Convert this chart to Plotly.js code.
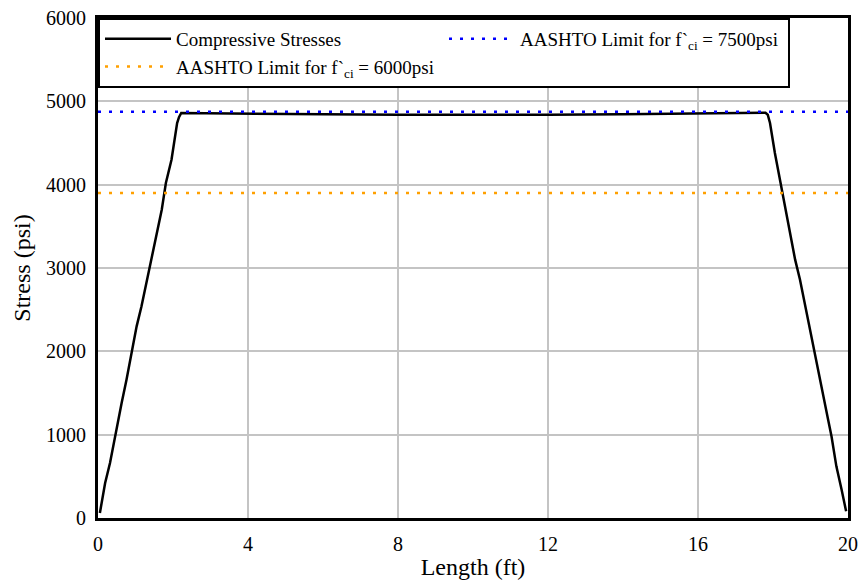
<!DOCTYPE html>
<html>
<head>
<meta charset="utf-8">
<script src="https://cdn.plot.ly/plotly-3.0.1.min.js"></script>
<style>html,body{margin:0;padding:0;background:#fff;}#chart{width:861px;height:582px;}</style>
</head>
<body>
<div id="chart"></div>
<script>
// Compressive stress along the member (ft, psi)
const lengthFt = [0.05, 0.19, 0.32, 0.45, 0.63, 0.76, 0.92, 1.03, 1.16, 1.39, 1.52, 1.70, 1.81, 1.96, 2.11, 2.16, 2.22,
  4, 6, 8, 10, 12, 14, 16, 17.8, 17.86, 17.92, 18.05, 18.23, 18.41, 18.59, 18.72, 18.94, 19.12, 19.30, 19.47, 19.56, 19.69, 19.83, 19.95];
const stressPsi = [60, 420, 660, 980, 1380, 1660, 2060, 2300, 2540, 3020, 3300, 3700, 4020, 4300, 4740, 4810, 4860,
  4850, 4845, 4840, 4838, 4840, 4845, 4852, 4862, 4840, 4740, 4380, 3940, 3500, 3100, 2860, 2380, 1980, 1580, 1180, 980, 620, 340, 80];

// AASHTO limits (0.65 f'ci)
const limitX = [0, 20];
const limit7500 = [4875, 4875];
const limit6000 = [3900, 3900];

const seriesNames = ["Compressive Stresses", "AASHTO Limit for f`<sub>ci</sub> = 7500psi", "AASHTO Limit for f`<sub>ci</sub> = 6000psi"];
const xTicks = [0, 4, 8, 12, 16, 20];
const yTicks = [0, 1000, 2000, 3000, 4000, 5000, 6000];

const font = "Liberation Serif";

const traces = [
  {x: lengthFt, y: stressPsi, mode: "lines", name: seriesNames[0],
   line: {color: "#000000", width: 2.5}},
  {x: limitX, y: limit7500, mode: "lines", name: seriesNames[1],
   line: {color: "#0000ff", width: 2.5, dash: "3px,8px"}},
  {x: limitX, y: limit6000, mode: "lines", name: seriesNames[2],
   line: {color: "#ffa000", width: 2.5, dash: "3px,8px"}}
];

const layout = {
  width: 861, height: 582,
  margin: {l: 98, r: 13, t: 18, b: 64, pad: 0},
  paper_bgcolor: "#ffffff", plot_bgcolor: "#ffffff",
  font: {family: font, size: 20, color: "#000"},
  showlegend: true,
  legend: {
    x: 0, y: 1, xanchor: "left", yanchor: "top",
    orientation: "h", entrywidth: 263, itemwidth: 66,
    bgcolor: "#ffffff", bordercolor: "#000000", borderwidth: 2,
    font: {family: font, size: 19, color: "#000"},
    tracegroupgap: 0
  },
  xaxis: {
    range: [0, 20], tickvals: xTicks, ticktext: xTicks.map(String),
    showgrid: true, gridcolor: "#c4c4c4", gridwidth: 2,
    showline: true, linecolor: "#000", linewidth: 3, mirror: true,
    zeroline: false, ticks: "", ticklabelstandoff: 6,
    tickfont: {family: font, size: 20, color: "#000"},
    title: {text: "Length (ft)", font: {family: font, size: 24, color: "#000"}, standoff: 5}
  },
  yaxis: {
    range: [0, 6000], tickvals: yTicks, ticktext: yTicks.map(String),
    showgrid: true, gridcolor: "#c4c4c4", gridwidth: 2,
    showline: true, linecolor: "#000", linewidth: 3, mirror: true,
    zeroline: false, ticks: "", ticklabelstandoff: 5,
    tickfont: {family: font, size: 20, color: "#000"},
    title: {text: "Stress (psi)", font: {family: font, size: 24, color: "#000"}, standoff: 9}
  }
};

Plotly.newPlot("chart", traces, layout, {staticPlot: true, displayModeBar: false});
</script>
</body>
</html>
